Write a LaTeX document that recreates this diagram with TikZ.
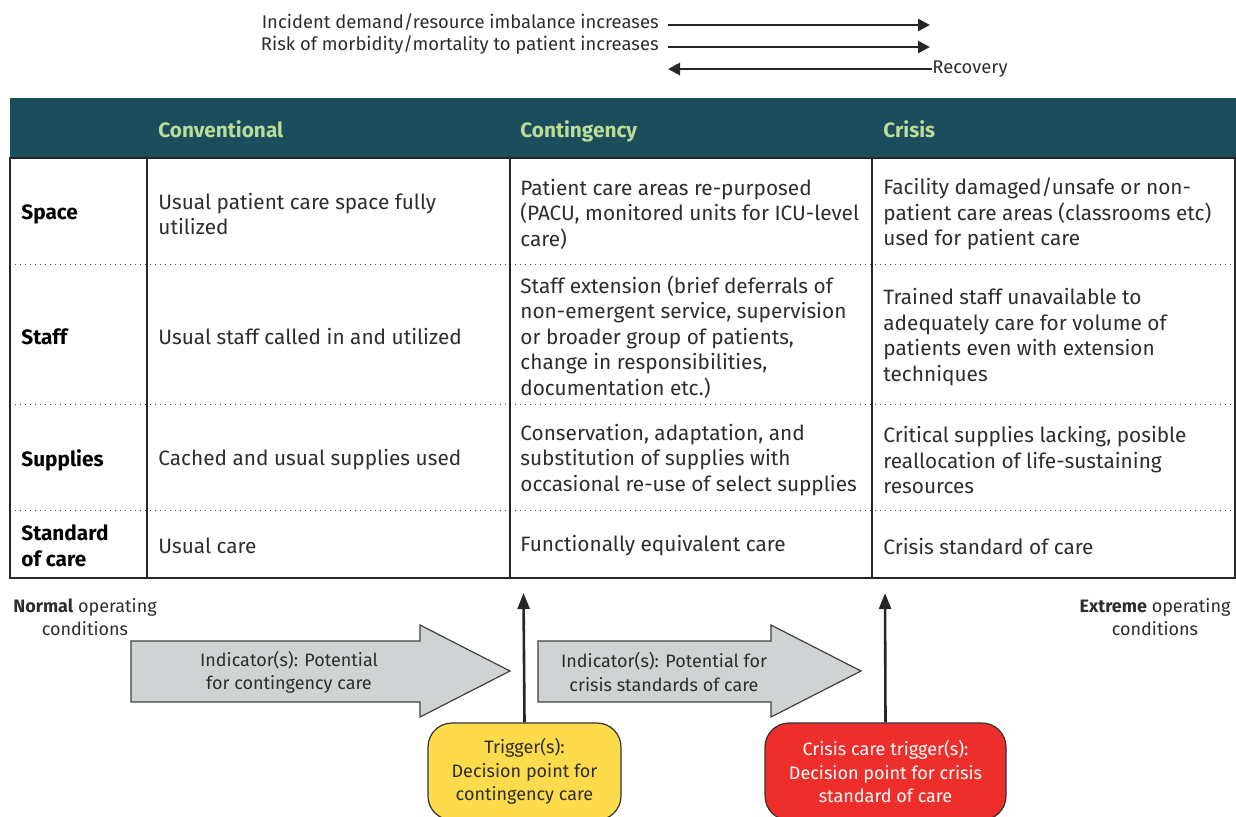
\documentclass[tikz,border=0pt]{standalone}
\usepackage{fontspec}
\setmainfont{Fira Sans}
\usetikzlibrary{arrows.meta,positioning}

\definecolor{headteal}{RGB}{27,77,92}
\definecolor{headgreen}{RGB}{186,220,150}
\definecolor{bodygray}{RGB}{45,45,45}
\definecolor{arrowgray}{RGB}{208,211,212}
\definecolor{trigyellow}{RGB}{253,219,74}
\definecolor{trigred}{RGB}{237,46,43}

\newcommand{\cellfont}{\fontsize{10.4}{12.75}\selectfont}
\newcommand{\boxfont}{\fontsize{9}{11.7}\selectfont}
\newcommand{\topfont}{\fontsize{9.2}{11.5}\selectfont}

\begin{document}
\begin{tikzpicture}[x=0.5pt, y=-0.5pt,
    cell/.style={anchor=west, align=left, inner sep=0pt, text=bodygray, font=\cellfont},
    rowhead/.style={anchor=west, align=left, inner sep=0pt, text=black, font=\cellfont\bfseries},
    colhead/.style={anchor=base west, inner sep=0pt, text=headgreen, font=\cellfont\bfseries},
    toptext/.style={anchor=east, inner sep=0pt, text=bodygray, font=\topfont},
    toparrow/.style={line width=1.4pt, draw=black!85, -{Triangle[length=6pt,width=6pt]}},
    uparrow/.style={line width=1.3pt, draw=black!85, -{Triangle[length=8pt,width=6pt]}},
    bigarrow/.style={fill=arrowgray, draw=black!75, line width=0.6pt},
    arrowtext/.style={align=center, inner sep=0pt, text=bodygray, font=\boxfont},
    trigbox/.style={draw=black!80, line width=0.6pt, rounded corners=12pt, align=center,
        minimum width=96.5pt, minimum height=48.5pt, inner sep=0pt, font=\boxfont}]

    \useasboundingbox (0,0) rectangle (1236,816);
    \clip (0,0) rectangle (1236,816);

    % Direction arrows on top
    \node[toptext] (demand) at (659,22) {Incident demand/resource imbalance increases};
    \node[toptext] (risk) at (659,45) {Risk of morbidity/mortality to patient increases};
    \coordinate (demand-start) at (668,25);
    \coordinate (demand-tip) at (930,25);
    \coordinate (risk-start) at (668,47);
    \coordinate (risk-tip) at (930,47);
    \coordinate (recovery-tip) at (668,69);
    \draw[toparrow] (demand-start) -- (demand-tip);
    \draw[toparrow] (risk-start) -- (risk-tip);
    \node[toptext, anchor=west] (recovery) at (932,69) {Recovery};
    \draw[toparrow] (recovery.west) -- (recovery-tip);

    % Header band
    \fill[headteal] (10,98) rectangle (1236,158);
    \node[colhead] (conv) at (158,137) {Conventional};
    \node[colhead] (cont) at (520,137) {Contingency};
    \node[colhead] (crisis) at (883,137) {Crisis};

    % Table frame and rules
    \foreach \y in {264, 404, 510} {
        \draw[dotted, black!70, line width=0.5pt] (10,\y) -- (1235,\y);
    }
    \foreach \x in {147, 510, 872} {
        \draw[black!85, line width=0.6pt] (\x,158) -- (\x,578);
    }
    \draw[black!85, line width=0.9pt] (10,158) rectangle (1235,578);

    % Row: Space
    \node[rowhead] (space) at (21,214) {Space};
    \node[cell] (space-conv) at (158,214) {Usual patient care space fully\\utilized};
    \node[cell] (space-cont) at (520,214) {Patient care areas re-purposed\\(PACU, monitored units for ICU-level\\care)};
    \node[cell] (space-crisis) at (883,214) {Facility damaged/unsafe or non-\\patient care areas (classrooms etc)\\used for patient care};

    % Row: Staff
    \node[rowhead] (staff) at (21,337) {Staff};
    \node[cell] (staff-conv) at (158,337) {Usual staff called in and utilized};
    \node[cell] (staff-cont) at (520,337) {Staff extension (brief deferrals of\\non-emergent service, supervision\\or broader group of patients,\\change in responsibilities,\\documentation etc.)};
    \node[cell] (staff-crisis) at (883,337) {Trained staff unavailable to\\adequately care for volume of\\patients even with extension\\techniques};

    % Row: Supplies
    \node[rowhead] (supplies) at (21,460) {Supplies};
    \node[cell] (supplies-conv) at (158,460) {Cached and usual supplies used};
    \node[cell] (supplies-cont) at (520,460) {Conservation, adaptation, and\\substitution of supplies with\\occasional re-use of select supplies};
    \node[cell] (supplies-crisis) at (883,460) {Critical supplies lacking, posible\\reallocation of life-sustaining\\resources};

    % Row: Standard of care
    \node[rowhead] (standard) at (21,546) {Standard\\of care};
    \node[cell] (standard-conv) at (158,546) {Usual care};
    \node[cell] (standard-cont) at (520,546) {Functionally equivalent care};
    \node[cell] (standard-crisis) at (883,546) {Crisis standard of care};

    % Operating conditions
    \node[arrowtext] (normal) at (85,617) {\textbf{Normal} operating\\conditions};
    \node[arrowtext] (extreme) at (1155,617) {\textbf{Extreme} operating\\conditions};

    % Indicator arrows
    \foreach \xl/\xm/\xt/\xc/\nm/\txt in {131/420/510/289/ind1/{Indicator(s): Potential\\for contingency care},
                                         538/771/861/664/ind2/{Indicator(s): Potential for\\crisis standards of care}} {
        \draw[bigarrow] (\xl,641) -- (\xm,641) -- (\xm,625) -- (\xt,671) -- (\xm,717) -- (\xm,702) -- (\xl,702) -- cycle;
        \node[arrowtext] (\nm) at (\xc,672) {\txt};
    }

    % Triggers
    \node[trigbox, fill=trigyellow, text=bodygray] (trig1) at (524.5,771.5) {Trigger(s):\\Decision point for\\contingency care};
    \node[trigbox, fill=trigred, text=white, minimum width=120.5pt] (trig2) at (885.5,771.5) {Crisis care trigger(s):\\Decision point for crisis\\standard of care};
    \coordinate (trig1-tip) at (523.5,593);
    \coordinate (trig2-tip) at (885,593);
    \draw[uparrow] (trig1.north) -- (trig1-tip);
    \draw[uparrow] (trig2.north) -- (trig2-tip);

\end{tikzpicture}
\end{document}
